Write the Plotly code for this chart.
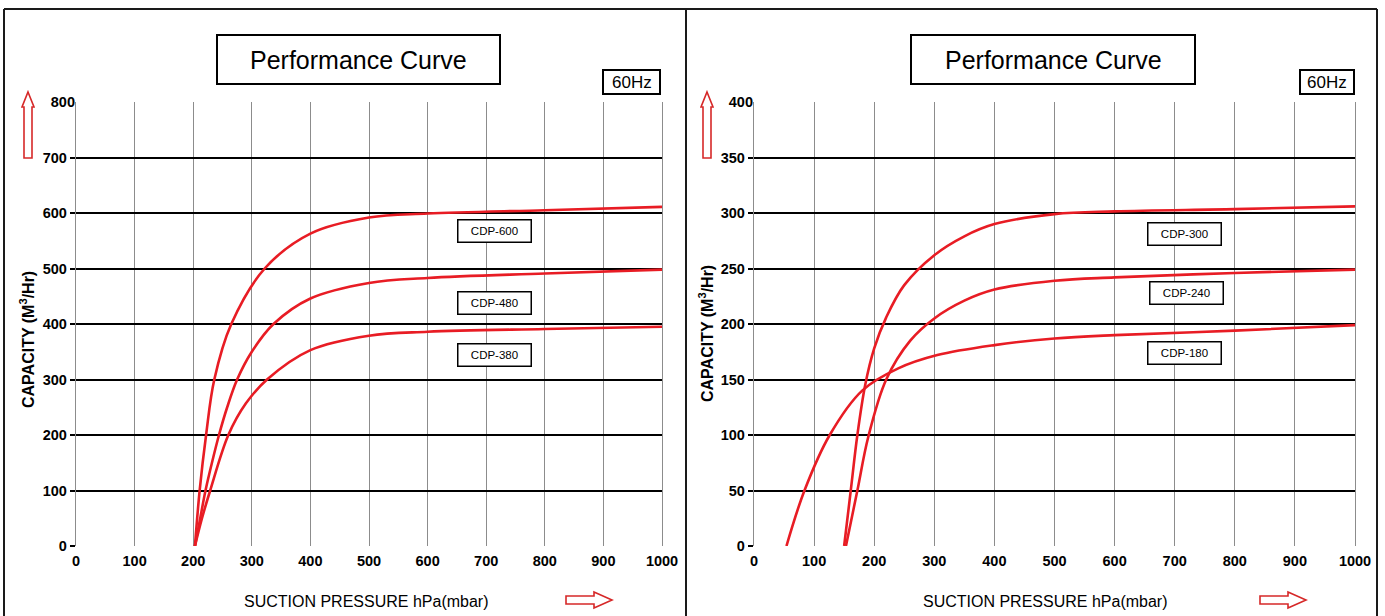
import plotly.graph_objects as go

W, H = 1385, 616

# ---------------- data ----------------
x_ticks = [0, 100, 200, 300, 400, 500, 600, 700, 800, 900, 1000]

# left chart (0-800 m3/hr)
left_y_ticks = [0, 100, 200, 300, 400, 500, 600, 700]
left_y_top = 800
cdp600_x = [203, 211, 222, 236, 265, 322, 400, 500, 600, 800, 1000]
cdp600_y = [0, 100, 200, 300, 400, 500, 563, 592, 599, 605, 611]
cdp480_x = [203, 212, 221, 232, 244, 258, 275, 300, 337, 400, 500, 600, 800, 1000]
cdp480_y = [0, 50, 100, 150, 200, 250, 300, 350, 400, 446, 474, 483, 491, 498]
cdp380_x = [203, 215, 229, 260, 290, 326, 400, 500, 600, 800, 1000]
cdp380_y = [0, 50, 100, 200, 257, 300, 353, 379, 386, 391, 395]

# right chart (0-400 m3/hr)
right_y_ticks = [0, 50, 100, 150, 200, 250, 300, 350]
right_y_top = 400
cdp300_x = [150, 161, 172, 185, 200, 220, 250, 300, 350, 400, 500, 600, 800, 1000]
cdp300_y = [0, 50, 100, 145, 178, 206, 235, 262, 279, 290, 299, 301.5, 303.5, 306]
cdp240_x = [153, 172, 190, 220, 260, 300, 350, 400, 500, 600, 800, 1000]
cdp240_y = [0, 50, 98, 150, 185, 205, 221, 231, 239, 242, 246, 249]
cdp180_x = [54, 84, 126, 180, 240, 305, 400, 500, 600, 800, 1000]
cdp180_y = [0, 50, 100, 140, 160, 172, 181, 187, 190, 194, 199]

left_series = [("CDP-600", cdp600_x, cdp600_y), ("CDP-480", cdp480_x, cdp480_y), ("CDP-380", cdp380_x, cdp380_y)]
right_series = [("CDP-300", cdp300_x, cdp300_y), ("CDP-240", cdp240_x, cdp240_y), ("CDP-180", cdp180_x, cdp180_y)]

# label anchor positions (data coords)
left_label_pos = [(715, 568), (715, 437), (715, 345)]
right_label_pos = [(717, 281), (720, 228), (717, 174)]

title_text = "Performance Curve"
freq_text = "60Hz"
x_title = "SUCTION PRESSURE hPa(mbar)"
y_title = "CAPACITY (M<sup>3</sup>/Hr)"

# ---------------- style ----------------
RED = "rgb(232,28,36)"
ARROW_RED = "rgb(214,40,40)"
GRID_V = "#8c8c8c"
FONT = "Liberation Sans, Arial, Helvetica, sans-serif"

def px(x):
    return x / W

def py(y):
    return (H - y) / H

fig = go.Figure()

for name, xs, ys in left_series:
    fig.add_trace(go.Scatter(x=xs, y=ys, mode="lines", name=name, xaxis="x", yaxis="y",
                             line=dict(color=RED, width=2.6, shape="spline", smoothing=1.0),
                             showlegend=False, hoverinfo="skip"))
for name, xs, ys in right_series:
    fig.add_trace(go.Scatter(x=xs, y=ys, mode="lines", name=name, xaxis="x2", yaxis="y2",
                             line=dict(color=RED, width=2.6, shape="spline", smoothing=1.0),
                             showlegend=False, hoverinfo="skip"))
# empty traces to bind the overlay axes that carry the top (grey) grid line
fig.add_trace(go.Scatter(x=[], y=[], xaxis="x", yaxis="y3", showlegend=False, hoverinfo="skip"))
fig.add_trace(go.Scatter(x=[], y=[], xaxis="x2", yaxis="y4", showlegend=False, hoverinfo="skip"))

tickfont = dict(family=FONT, size=14.5, color="black", weight="bold")

ydom = [py(546), py(102)]
xdom_l = [px(76), px(662)]
xdom_r = [px(754), px(1355)]

def xaxis_cfg(dom, anchor):
    return dict(domain=dom, anchor=anchor, range=[0, 1000], tickvals=x_ticks, showgrid=True,
                gridcolor=GRID_V, gridwidth=1.3, zeroline=False, showline=False, ticks="",
                ticklabelstandoff=4, tickfont=tickfont, fixedrange=True, automargin=False)

def yaxis_cfg(dom, anchor, top, vals):
    return dict(domain=dom, anchor=anchor, range=[0, top], tickvals=vals, showgrid=True,
                gridcolor="black", gridwidth=2.4, zeroline=False, showline=True, mirror=True,
                linecolor=GRID_V, linewidth=1.3, ticks="outside", ticklen=5, tickwidth=1.5,
                tickcolor="black", tickfont=tickfont, fixedrange=True, automargin=False)

def ytop_cfg(overlay, anchor, top):
    return dict(overlaying=overlay, anchor=anchor, side="left", range=[0, top], tickvals=[top],
                showgrid=True, gridcolor=GRID_V, gridwidth=1.3, zeroline=False, showline=False,
                ticks="", tickfont=tickfont, fixedrange=True, automargin=False)

shapes = []
annotations = []

# outer frames
frame = dict(type="line", xref="paper", yref="paper", line=dict(color="#1a1a1a", width=2))
shapes.append(dict(frame, x0=px(4), x1=px(1377), y0=py(9), y1=py(9)))
for xx in (4, 686, 1377):
    shapes.append(dict(frame, x0=px(xx), x1=px(xx), y0=py(9), y1=py(620)))

def box(x0, x1, y0, y1, w=2):
    shapes.append(dict(type="rect", xref="paper", yref="paper", x0=px(x0), x1=px(x1), y0=py(y1), y1=py(y0),
                       line=dict(color="black", width=w), fillcolor="white", layer="below"))

def text(xc, yc, t, size, angle=0, bold=False):
    f = dict(family=FONT, size=size, color="black")
    if bold:
        f["weight"] = "bold"
    annotations.append(dict(xref="paper", yref="paper", x=px(xc), y=py(yc), text=t, showarrow=False,
                            textangle=angle, xanchor="center", yanchor="middle", font=f))

def up_arrow(xc):
    pts = [(xc, 92), (xc + 6, 107), (xc + 4, 107), (xc + 4, 158), (xc - 4, 158), (xc - 4, 107), (xc - 6, 107)]
    path = "M " + " L ".join(f"{px(a)},{py(b)}" for a, b in pts) + " Z"
    shapes.append(dict(type="path", xref="paper", yref="paper", path=path,
                       line=dict(color=ARROW_RED, width=1.6), fillcolor="white"))

def right_arrow(x0, yc):
    pts = [(x0, yc - 4), (x0 + 28, yc - 4), (x0 + 28, yc - 8), (x0 + 46, yc), (x0 + 28, yc + 8), (x0 + 28, yc + 4), (x0, yc + 4)]
    path = "M " + " L ".join(f"{px(a)},{py(b)}" for a, b in pts) + " Z"
    shapes.append(dict(type="path", xref="paper", yref="paper", path=path,
                       line=dict(color=ARROW_RED, width=1.6), fillcolor="white"))

# left panel decorations
box(217, 500, 35, 84)
text(358.5, 60, title_text, 25)
box(603, 660, 70, 94)
text(631.5, 82.5, freq_text, 17)
up_arrow(28)
right_arrow(566, 600)
text(366, 601, x_title, 16)
text(27, 340, y_title, 16, angle=-90, bold=True)

# right panel decorations
box(911, 1195, 35, 84)
text(1053, 60, title_text, 25)
box(1300, 1354, 70, 94)
text(1327, 82.5, freq_text, 17)
up_arrow(707)
right_arrow(1260, 600)
text(1045, 601, x_title, 16)
text(706, 334, y_title, 16, angle=-90, bold=True)

# series labels
for (name, _, _), (lx, ly) in zip(left_series, left_label_pos):
    annotations.append(dict(xref="x", yref="y", x=lx, y=ly, text=name, showarrow=False,
                            width=70, height=19, bordercolor="black", borderwidth=1.5, borderpad=1,
                            bgcolor="white", font=dict(family=FONT, size=11.5, color="black")))
for (name, _, _), (lx, ly) in zip(right_series, right_label_pos):
    annotations.append(dict(xref="x2", yref="y2", x=lx, y=ly, text=name, showarrow=False,
                            width=70, height=19, bordercolor="black", borderwidth=1.5, borderpad=1,
                            bgcolor="white", font=dict(family=FONT, size=11.5, color="black")))

fig.update_layout(
    width=W, height=H, margin=dict(l=0, r=0, t=0, b=0, autoexpand=False),
    paper_bgcolor="white", plot_bgcolor="white",
    xaxis=xaxis_cfg(xdom_l, "y"),
    yaxis=yaxis_cfg(ydom, "x", left_y_top, left_y_ticks),
    xaxis2=xaxis_cfg(xdom_r, "y2"),
    yaxis2=yaxis_cfg(ydom, "x2", right_y_top, right_y_ticks),
    yaxis3=ytop_cfg("y", "x", left_y_top),
    yaxis4=ytop_cfg("y2", "x2", right_y_top),
    shapes=shapes, annotations=annotations, showlegend=False,
)

fig.write_html("out.html", config={"displayModeBar": False},
               post_script="document.body.style.margin='0';document.body.style.overflow='hidden';")
